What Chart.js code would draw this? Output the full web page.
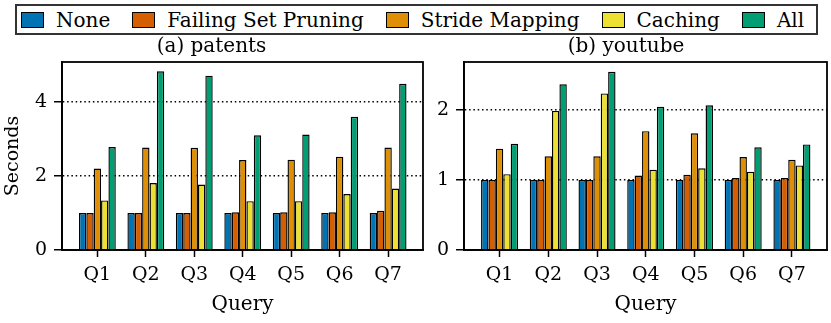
<!DOCTYPE html>
<html>
<head>
<meta charset="utf-8">
<script src="https://cdn.jsdelivr.net/npm/chart.js@4.4.1/dist/chart.umd.min.js"></script>
<style>
  html, body { margin: 0; padding: 0; background: #fff; }
  #wrap { position: relative; width: 831px; height: 323px; overflow: hidden; font-family: "DejaVu Serif", serif; }
  .panel { position: absolute; top: 0; height: 323px; }
  #legend { position: absolute; left: 15px; top: 4px; width: 795px; height: 27px; border: 2px solid #333;
            display: flex; align-items: center; padding-left: 4px; font-size: 20px; color: #000; z-index: 5; background: #fff; }
  .item { display: flex; align-items: center; margin-right: 22px; white-space: nowrap; }
  .sw { width: 21px; height: 14px; border: 1.5px solid #000; margin-right: 12px; }
</style>
</head>
<body>
<div id="wrap">
  <div class="panel" style="left:0;width:440px"><canvas id="c1"></canvas></div>
  <div class="panel" style="left:425px;width:406px"><canvas id="c2"></canvas></div>
  <div id="legend"></div>
</div>
<script>
const categories = ['Q1', 'Q2', 'Q3', 'Q4', 'Q5', 'Q6', 'Q7'];
const seriesNames = ['None', 'Failing Set Pruning', 'Stride Mapping', 'Caching', 'All'];
const seriesColors = ['#0173b2', '#d55e00', '#de8f05', '#ece133', '#029e73'];

const patentsNone    = [1.00, 1.00, 1.00, 1.00, 1.00, 1.00, 1.00];
const patentsFSP     = [1.00, 1.00, 1.00, 1.02, 1.02, 1.02, 1.06];
const patentsStride  = [2.20, 2.77, 2.76, 2.43, 2.44, 2.52, 2.77];
const patentsCaching = [1.34, 1.81, 1.77, 1.32, 1.32, 1.51, 1.66];
const patentsAll     = [2.78, 4.83, 4.71, 3.10, 3.12, 3.60, 4.49];

const youtubeNone    = [1.00, 1.00, 1.00, 1.00, 1.00, 1.00, 1.00];
const youtubeFSP     = [1.00, 1.00, 1.00, 1.066, 1.076, 1.03, 1.03];
const youtubeStride  = [1.45, 1.34, 1.34, 1.70, 1.67, 1.33, 1.29];
const youtubeCaching = [1.085, 1.99, 2.24, 1.15, 1.17, 1.12, 1.21];
const youtubeAll     = [1.52, 2.37, 2.55, 2.05, 2.07, 1.47, 1.51];

const patentsTicks = [0, 2, 4];
const youtubeTicks = [0, 1, 2];
const patentsMax = 5.08;
const youtubeMax = 2.69;

const FONT = '"DejaVu Serif", serif';

// HTML legend
const leg = document.getElementById('legend');
seriesNames.forEach((n, i) => {
  const it = document.createElement('div'); it.className = 'item';
  const sw = document.createElement('div'); sw.className = 'sw'; sw.style.background = seriesColors[i];
  const tx = document.createElement('span'); tx.textContent = n;
  it.appendChild(sw); it.appendChild(tx); leg.appendChild(it);
});

const framePlugin = {
  id: 'frame',
  afterDraw(chart) {
    const a = chart.chartArea, ctx = chart.ctx;
    ctx.save();
    ctx.strokeStyle = '#000';
    ctx.lineWidth = 1.8;
    ctx.strokeRect(a.left, a.top, a.right - a.left, a.bottom - a.top);
    ctx.restore();
  }
};

function makeChart(id, title, seriesData, yTicks, yMax, yWidth, padRight, showYTitle) {
  const datasets = seriesData.map((arr, i) => ({
    label: seriesNames[i],
    data: arr.map((v, k) => ({ x: k, y: v })),
    backgroundColor: seriesColors[i],
    borderColor: '#000',
    borderWidth: 1.4,
    categoryPercentage: 0.76,
    barPercentage: 1.0
  }));
  return new Chart(document.getElementById(id), {
    type: 'bar',
    data: { datasets },
    plugins: [framePlugin],
    options: {
      responsive: true,
      maintainAspectRatio: false,
      animation: false,
      layout: { padding: { left: 0, right: padRight, top: 0, bottom: 0 } },
      plugins: {
        legend: { display: false },
        tooltip: { enabled: false },
        title: {
          display: true, text: title, color: '#000',
          font: { family: FONT, size: 20, weight: 'normal' },
          padding: { top: 35, bottom: 3 }
        }
      },
      scales: {
        x: {
          type: 'linear',
          offset: false,
          min: -0.73, max: 6.72,
          afterBuildTicks: s => { s.ticks = categories.map((c, k) => ({ value: k })); },
          afterFit: s => { s.height = 73; },
          ticks: {
            color: '#000', font: { family: FONT, size: 19 }, padding: 7,
            callback: v => categories[v]
          },
          grid: { offset: false, drawOnChartArea: false, drawTicks: true, tickLength: 7, tickColor: '#000', tickWidth: 1.5 },
          border: { display: true, color: '#000', width: 1.8 },
          title: {
            display: true, text: 'Query', color: '#000',
            font: { family: FONT, size: 20 }, padding: { top: 0, bottom: 6 }
          }
        },
        y: {
          min: 0, max: yMax,
          afterBuildTicks: s => { s.ticks = yTicks.map(v => ({ value: v })); },
          afterFit: s => { s.width = yWidth; },
          ticks: { color: '#000', font: { family: FONT, size: 19 }, padding: 7, callback: v => String(v) },
          grid: {
            drawOnChartArea: true, drawTicks: true, tickLength: 8,
            color: c => (c.tick && c.tick.value === 0) ? 'rgba(0,0,0,0)' : '#000',
            lineWidth: 1.5, tickColor: '#000', tickWidth: 1.5
          },
          border: { display: true, color: '#000', width: 1.8, dash: [1.5, 2.8] },
          title: {
            display: showYTitle, text: 'Seconds', color: '#000',
            font: { family: FONT, size: 19 }, padding: { top: 2, bottom: 0 }
          }
        }
      }
    }
  });
}

makeChart('c1', '(a) patents',
  [patentsNone, patentsFSP, patentsStride, patentsCaching, patentsAll],
  patentsTicks, patentsMax, 62, 17, true);
makeChart('c2', '(b) youtube',
  [youtubeNone, youtubeFSP, youtubeStride, youtubeCaching, youtubeAll],
  youtubeTicks, youtubeMax, 39, 4, false);
</script>
</body>
</html>
